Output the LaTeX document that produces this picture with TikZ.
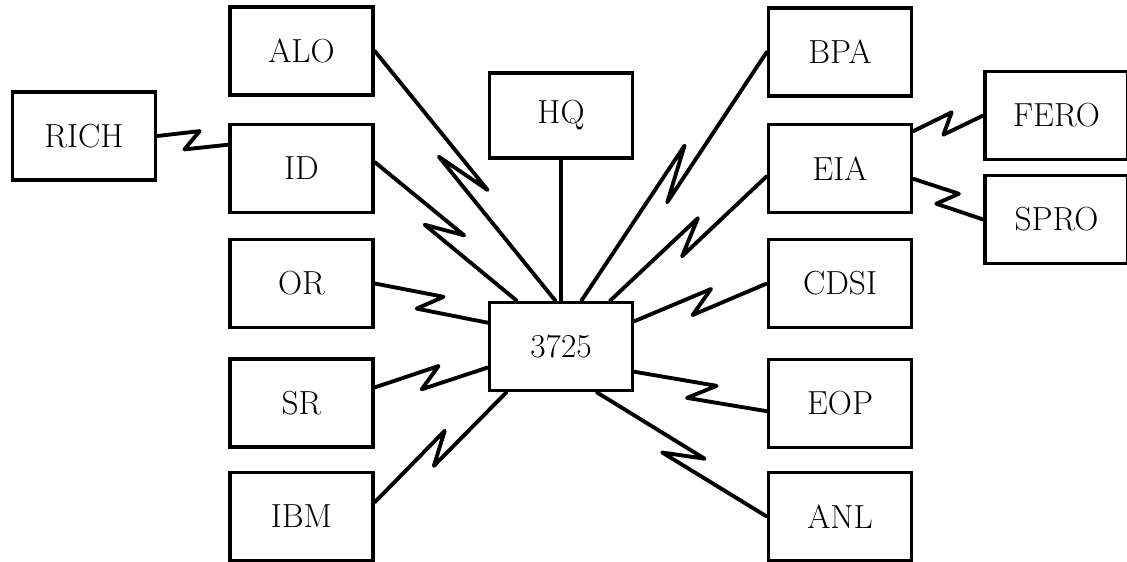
\documentclass[tikz,border=0pt]{standalone}
\usepackage{tikz}
\usetikzlibrary{calc}

\begin{document}
\begin{tikzpicture}[
  site/.style={draw, line width=2pt, minimum width=2.86cm, minimum height=1.76cm, inner sep=0pt, font=\fontsize{19}{21}\selectfont},
  link/.style={line width=1.8pt},
  bolt/.style={line width=2.2pt, line join=round, line cap=round,
    to path={-- ($(\tikztostart)!0.58!(\tikztotarget)!0.2cm!90:(\tikztotarget)$)
             -- ($(\tikztostart)!0.40!(\tikztotarget)!0.2cm!-90:(\tikztotarget)$)
             -- (\tikztotarget)}}
]
  \useasboundingbox (0,0) rectangle (22.54,11.22);

  % Hub
  \node[site] (hub) at (11.22,4.29) {3725};
  \node[site, minimum height=1.70cm] (hq) at (11.22,8.91) {HQ};

  % Left column
  \node[site] (rich) at (1.68,8.50) {RICH};
  \node[site] (alo) at (6.03,10.20) {ALO};
  \node[site] (id) at (6.03,7.85) {ID};
  \node[site] (or) at (6.03,5.55) {OR};
  \node[site] (sr) at (6.03,3.16) {SR};
  \node[site] (ibm) at (6.03,0.89) {IBM};

  % Right column
  \node[site] (bpa) at (16.80,10.18) {BPA};
  \node[site] (eia) at (16.80,7.85) {EIA};
  \node[site] (cdsi) at (16.80,5.55) {CDSI};
  \node[site] (eop) at (16.80,3.15) {EOP};
  \node[site] (anl) at (16.80,0.89) {ANL};
  \node[site] (fero) at (21.13,8.91) {FERO};
  \node[site] (spro) at (21.13,6.83) {SPRO};

  % Local link
  \draw[link] (hq.south) -- (hub.north);

  % Lines into the hub
  \draw[bolt] (alo.east) to (hub.97);
  \draw[bolt] (id.5) to (hub.134);
  \draw[bolt] (or.east) to (hub.162);
  \draw[bolt] (sr.12) to (hub.196);
  \draw[bolt] (ibm.11) to (hub.220);
  \draw[bolt] (bpa.west) to (hub.66);
  \draw[bolt] (eia.186) to (hub.43);
  \draw[bolt] (cdsi.west) to (hub.19);
  \draw[bolt] (eop.186) to (hub.341);
  \draw[bolt] (anl.west) to (hub.308);

  % Tail circuits
  \draw[bolt] (rich.east) to (id.162);
  \draw[bolt] (eia.27) to (fero.west);
  \draw[bolt] (eia.352) to (spro.west);
\end{tikzpicture}
\end{document}
